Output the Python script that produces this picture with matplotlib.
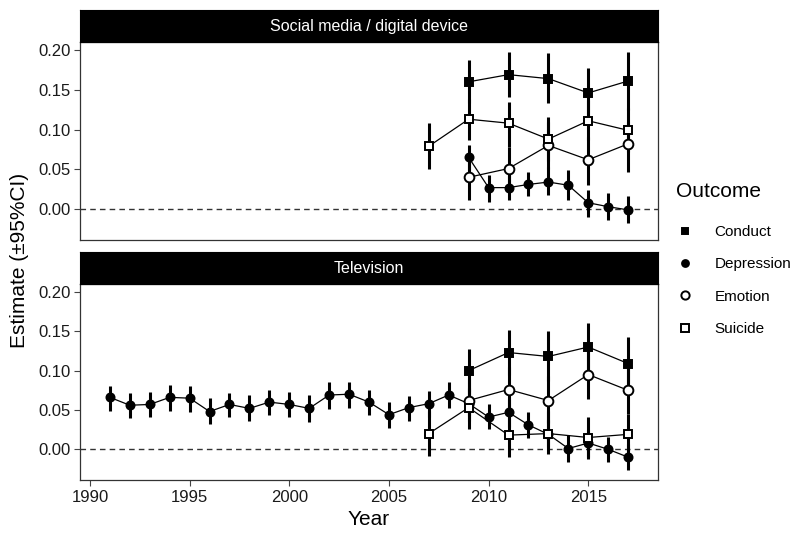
import matplotlib.pyplot as plt
import numpy as np

plt.rcParams['font.family'] = ['Liberation Sans', 'DejaVu Sans']

# --- data ---
# Social media / digital device
sm_years_5 = [2009, 2011, 2013, 2015, 2017]
sm_conduct = [0.160, 0.169, 0.164, 0.146, 0.161]
sm_conduct_lo = [0.133, 0.141, 0.133, 0.112, 0.125]
sm_conduct_hi = [0.187, 0.198, 0.196, 0.177, 0.198]

sm_emotion = [0.040, 0.051, 0.080, 0.062, 0.082]
sm_emotion_lo = [0.011, 0.024, 0.051, 0.030, 0.047]
sm_emotion_hi = [0.068, 0.078, 0.110, 0.091, 0.110]

sm_years_suic = [2007, 2009, 2011, 2013, 2015, 2017]
sm_suicide = [0.079, 0.113, 0.108, 0.088, 0.111, 0.099]
sm_suicide_lo = [0.051, 0.087, 0.078, 0.060, 0.087, 0.072]
sm_suicide_hi = [0.108, 0.139, 0.135, 0.116, 0.137, 0.127]

sm_years_dep = [2009, 2010, 2011, 2012, 2013, 2014, 2015, 2016, 2017]
sm_depression = [0.065, 0.027, 0.027, 0.031, 0.034, 0.030, 0.008, 0.003, -0.001]
sm_depression_lo = [0.047, 0.009, 0.011, 0.016, 0.018, 0.011, -0.010, -0.014, -0.018]
sm_depression_hi = [0.080, 0.043, 0.045, 0.047, 0.053, 0.049, 0.024, 0.020, 0.016]

# Television
tv_years_5 = [2009, 2011, 2013, 2015, 2017]
tv_conduct = [0.100, 0.123, 0.118, 0.130, 0.109]
tv_conduct_lo = [0.074, 0.095, 0.087, 0.099, 0.074]
tv_conduct_hi = [0.127, 0.152, 0.150, 0.160, 0.143]

tv_emotion = [0.062, 0.076, 0.062, 0.095, 0.075]
tv_emotion_lo = [0.036, 0.047, 0.034, 0.064, 0.045]
tv_emotion_hi = [0.089, 0.104, 0.093, 0.125, 0.108]

tv_years_suic = [2007, 2009, 2011, 2013, 2015, 2017]
tv_suicide = [0.020, 0.053, 0.018, 0.020, 0.015, 0.019]
tv_suicide_lo = [-0.008, 0.026, -0.010, -0.006, -0.012, -0.008]
tv_suicide_hi = [0.049, 0.078, 0.045, 0.049, 0.041, 0.045]

tv_years_dep = list(range(1991, 2018))
tv_depression = [0.066, 0.056, 0.057, 0.066, 0.065, 0.048, 0.057, 0.052, 0.060,
                 0.057, 0.052, 0.069, 0.070, 0.060, 0.044, 0.053, 0.058, 0.069,
                 0.058, 0.041, 0.047, 0.031, 0.019, 0.001, 0.008, 0.000, -0.010]
tv_depression_lo = [0.049, 0.040, 0.041, 0.049, 0.048, 0.032, 0.041, 0.036, 0.043,
                    0.041, 0.035, 0.051, 0.053, 0.043, 0.027, 0.036, 0.041, 0.052,
                    0.043, 0.026, 0.028, 0.015, 0.003, -0.016, -0.010, -0.016, -0.026]
tv_depression_hi = [0.081, 0.072, 0.073, 0.082, 0.080, 0.065, 0.072, 0.069, 0.076,
                    0.073, 0.069, 0.085, 0.086, 0.075, 0.060, 0.068, 0.074, 0.086,
                    0.076, 0.058, 0.064, 0.047, 0.037, 0.018, 0.024, 0.016, 0.007]

panels = [
    ("Social media / digital device", [
        ("Conduct", sm_years_5, sm_conduct, sm_conduct_lo, sm_conduct_hi),
        ("Depression", sm_years_dep, sm_depression, sm_depression_lo, sm_depression_hi),
        ("Emotion", sm_years_5, sm_emotion, sm_emotion_lo, sm_emotion_hi),
        ("Suicide", sm_years_suic, sm_suicide, sm_suicide_lo, sm_suicide_hi),
    ]),
    ("Television", [
        ("Conduct", tv_years_5, tv_conduct, tv_conduct_lo, tv_conduct_hi),
        ("Depression", tv_years_dep, tv_depression, tv_depression_lo, tv_depression_hi),
        ("Emotion", tv_years_5, tv_emotion, tv_emotion_lo, tv_emotion_hi),
        ("Suicide", tv_years_suic, tv_suicide, tv_suicide_lo, tv_suicide_hi),
    ]),
]

styles = {
    "Conduct": dict(marker='s', mfc='black', ms=5.6),
    "Depression": dict(marker='o', mfc='black', ms=5.8),
    "Emotion": dict(marker='o', mfc='white', ms=7),
    "Suicide": dict(marker='s', mfc='white', ms=6.3),
}

fig = plt.figure(figsize=(8, 5.36), dpi=100)
L, W = 0.1, 0.7225
axes_pos = [(0.552, 0.9216, 0.981), (0.1045, 0.470, 0.530)]

for (title, series), (b, t, st) in zip(panels, axes_pos):
    ax = fig.add_axes([L, b, W, t - b])
    ax.axhline(0, color='#333333', lw=1, ls=(0, (4, 3)), zorder=1)
    for name, yrs, est, lo, hi in series:
        yrs = np.array(yrs)
        est = np.array(est)
        ax.plot(yrs, est, color='black', lw=0.9, zorder=2)
        ax.vlines(yrs, lo, hi, color='black', lw=2.2, zorder=3)
        s = styles[name]
        ax.plot(yrs, est, ls='none', marker=s['marker'], ms=s['ms'],
                mfc=s['mfc'], mec='black', mew=1.4, zorder=4)
    ax.set_xlim(1989.5, 2018.5)
    ax.set_ylim(-0.039, 0.21)
    ax.set_yticks([0.0, 0.05, 0.10, 0.15, 0.20])
    ax.set_yticklabels(['0.00', '0.05', '0.10', '0.15', '0.20'])
    ax.tick_params(axis='both', labelsize=12, length=4, color='#444444',
                   labelcolor='#1a1a1a', width=0.8, pad=3)
    for sp in ax.spines.values():
        sp.set_color('#333333')
        sp.set_linewidth(0.9)
    # strip
    sax = fig.add_axes([L, t, W, st - t])
    sax.set_facecolor('black')
    sax.set_xticks([])
    sax.set_yticks([])
    for sp in sax.spines.values():
        sp.set_color('black')
    sax.text(0.5, 0.48, title, color='white', fontsize=11.5,
             ha='center', va='center', transform=sax.transAxes)
    if title != "Television":
        ax.set_xticks([])
    else:
        ax.set_xticks([1990, 1995, 2000, 2005, 2010, 2015])
        ax.set_xlabel("Year", fontsize=15, labelpad=4)

fig.text(0.025, 0.515, "Estimate (\u00b195%CI)", rotation=90, fontsize=15,
         ha='center', va='center')

# legend
handles = []
for name in ["Conduct", "Depression", "Emotion", "Suicide"]:
    s = styles[name]
    h, = plt.plot([], [], ls='none', marker=s['marker'], ms=s['ms'] * 0.85,
                  mfc=s['mfc'], mec='black', mew=1.4)
    handles.append(h)
leg = fig.legend(handles, ["Conduct", "Depression", "Emotion", "Suicide"],
                 loc='upper left', bbox_to_anchor=(0.828, 0.686), frameon=False,
                 fontsize=11, title="Outcome", title_fontsize=15,
                 labelspacing=1.2, handletextpad=1.3, handlelength=1.2)
leg._legend_box.align = "left"
leg._legend_box.sep += 4

fig.savefig("out.png", dpi=100)
